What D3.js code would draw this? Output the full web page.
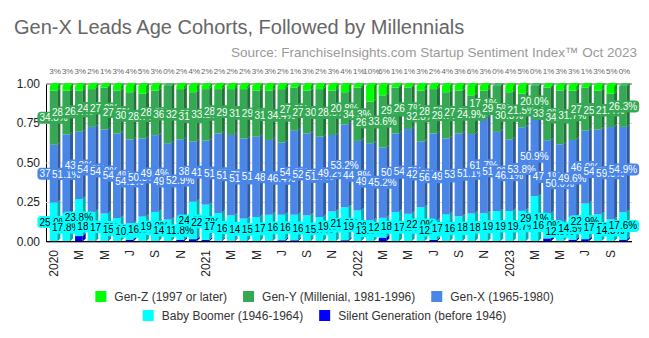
<!DOCTYPE html>
<html>
<head>
<meta charset="utf-8">
<script src="https://cdn.jsdelivr.net/npm/d3@7"></script>
<style>
  body { margin: 0; background: #fff; }
  text { font-family: "Liberation Sans", Arial, sans-serif; }
</style>
</head>
<body>
<svg id="chart" width="649" height="338"></svg>
<script>
// month tick labels (Jan 2020 .. Oct 2023), blank = no label
const MONTHS = [
  "2020","","M","","M","","J","","S","","N","",
  "2021","","M","","M","","J","","S","","N","",
  "2022","","M","","M","","J","","S","","N","",
  "2023","","M","","M","","J","","S",""
]

// percent of respondents in each cohort
const GEN_Z = [3,3,3,2,1,3,4,5,3,0,2,4,2,2,2,2,3,3,2,1,3,2,3,4,1,10,6,1,1,3,2,4,3,6,3,0,4,5,0,1,3,3,1,3,5,0]
const GEN_Y = [34.8,28.1,26.4,24.3,27.0,27.5,30.4,28.7,28.6,36.8,32.3,31.8,33.1,28.5,29.5,31.7,29.6,31.7,34.4,27.8,27.5,30.6,28.5,20.8,34.3,26.8,33.6,29.5,26.7,32.8,28.5,29.7,27.5,24.9,17.1,29.5,30.3,21.5,20.0,33.9,34.5,31.7,27.7,25.0,21.4,26.3]
const GEN_X = [37.2,51.1,43.3,54.8,54.0,54.4,54.1,50.3,49.4,49.1,52.9,38.7,41.2,51.2,51.7,51.6,51.7,48.1,46.4,54.0,52.7,51.7,49.2,53.2,44.8,49.6,45.2,50.6,54.5,42.2,56.3,49.0,53.3,51.1,61.7,51.0,46.1,53.8,50.9,47.1,50.0,49.6,46.9,54.5,59.3,54.9]
const BOOMER = [25.0,17.8,23.8,18.4,17.5,15.1,10.3,16.0,19.0,14.1,11.8,24.0,22.7,17.8,16.3,14.2,15.7,17.2,16.4,16.4,16.8,15.7,19.3,21.2,19.9,13.6,12.7,18.9,17.8,22.0,12.2,17.3,16.2,18.0,18.2,19.5,19.6,19.7,29.1,16.0,12.5,14.5,22.9,17.5,14.3,17.6]
const SILENT = [0,0,3.5,0.5,0.5,0,1.2,0,0,0,1,1.5,1,0.5,0.5,0.5,0,0,0.8,0.8,0,0,0,0.8,0,0,2.5,0,0,0,1,0,0,0,0,0,0,0,0,2,0,1.2,1.5,0,0,1.2]

const Y_TICKS = [0, 0.25, 0.5, 0.75, 1]

const SERIES = [
  {key: "silent", name: "Silent Generation (before 1946)", color: "#0000ff", label: null},
  {key: "boomer", name: "Baby Boomer (1946-1964)", color: "#00ffff", label: "#000"},
  {key: "genx", name: "Gen-X (1965-1980)", color: "#4a86e8", label: "#fff"},
  {key: "geny", name: "Gen-Y (Millenial, 1981-1996)", color: "#34a853", label: "#fff"},
  {key: "genz", name: "Gen-Z (1997 or later)", color: "#00ff00", label: null}
]

const rows = MONTHS.map(function(m, i) {
  return {i: i, silent: SILENT[i], boomer: BOOMER[i], genx: GEN_X[i], geny: GEN_Y[i], genz: GEN_Z[i]}
})

const svg = d3.select("#chart")
const left = 46, right = 632, depth = 3

// title + source
svg.append("text")
  .attr("x", 14).attr("y", 34)
  .style("font-size", "20px").style("fill", "#666")
  .text("Gen-X Leads Age Cohorts, Followed by Millennials")
svg.append("text")
  .attr("x", 637).attr("y", 57)
  .attr("text-anchor", "end")
  .style("font-size", "13.5px").style("fill", "#999")
  .text("Source: FranchiseInsights.com Startup Sentiment Index\u2122 Oct 2023")

const x = d3.scaleBand()
  .domain(d3.range(MONTHS.length))
  .range([48.5, 628])
  .paddingInner(0.4)
  .paddingOuter(0.1)
const bw = x.bandwidth()

const y = d3.scaleLinear().domain([0, 1]).range([241.5, 83.5])   // back wall / grid
const yb = d3.scaleLinear().domain([0, 1]).range([241.5, 86])    // bar front faces

// grid + y axis
const yAxis = svg.append("g")
  .attr("transform", "translate(" + left + ",0)")
  .call(d3.axisLeft(y).tickValues(Y_TICKS).tickFormat(d3.format(".2f"))
    .tickSize(-(right - left)).tickPadding(6))
yAxis.select(".domain").attr("stroke", "#000")
yAxis.selectAll(".tick line").attr("stroke", "#d4d4d4")
yAxis.selectAll(".tick text").style("font-size", "12px").style("fill", "#222")
  .style("font-family", "'Liberation Sans', Arial, sans-serif")

// stacked 3D bars
const stack = d3.stack().keys(SERIES.map(s => s.key)).offset(d3.stackOffsetExpand)
const layers = stack(rows)

const bars = svg.append("g")
rows.forEach(function(r, i) {
  const x0 = x(i), x1 = x0 + bw
  let topLayer = null
  layers.forEach(function(layer, li) {
    const seg = layer[i]
    if (seg[1] - seg[0] <= 0) return
    const c = d3.color(SERIES[li].color)
    const yt = yb(seg[1]), ybot = yb(seg[0])
    bars.append("rect")
      .attr("x", x0).attr("y", yt)
      .attr("width", bw).attr("height", ybot - yt)
      .attr("fill", SERIES[li].color)
    bars.append("polygon")
      .attr("points", [[x1, ybot], [x1 + depth, ybot - depth], [x1 + depth, yt - depth], [x1, yt]].join(" "))
      .attr("fill", c.darker(1.1))
    topLayer = {li: li, yt: yt}
  })
  if (topLayer) {
    const c = d3.color(SERIES[topLayer.li].color)
    const yt = topLayer.yt
    bars.append("polygon")
      .attr("points", [[x0, yt], [x0 + depth, yt - depth], [x1 + depth, yt - depth], [x1, yt]].join(" "))
      .attr("fill", c.brighter(0.4))
  }
})

// x axis line
svg.append("line")
  .attr("x1", left).attr("x2", right)
  .attr("y1", 241.5).attr("y2", 241.5)
  .attr("stroke", "#000")

// x tick labels (rotated)
svg.append("g").selectAll("text")
  .data(rows.filter(r => MONTHS[r.i] !== ""))
  .enter().append("text")
  .attr("transform", d => "translate(" + (x(d.i) + bw / 2 + 4.5) + ",250) rotate(-90)")
  .attr("text-anchor", "end")
  .style("font-size", "12px").style("fill", "#222")
  .text(d => MONTHS[d.i])

// Gen-Z percentages above the plot
svg.append("g").selectAll("text")
  .data(rows)
  .enter().append("text")
  .attr("x", d => x(d.i) + bw / 2 + 1.5)
  .attr("y", 74)
  .attr("text-anchor", "middle")
  .style("font-size", "8px").style("fill", "#666")
  .text(d => d.genz + "%")

// value labels in segments
const labels = svg.append("g")
layers.forEach(function(layer, li) {
  const s = SERIES[li]
  if (!s.label) return
  layer.forEach(function(seg, i) {
    const v = rows[i][s.key]
    const g = labels.append("g")
      .attr("transform", "translate(" + (x(i) + bw / 2) + "," + yb((seg[0] + seg[1]) / 2) + ")")
    const t = g.append("text")
      .attr("text-anchor", "middle")
      .attr("dy", "0.35em")
      .style("font-size", "10px")
      .style("fill", s.label)
      .text(d3.format(".1f")(v) + "%")
    const bb = t.node().getBBox()
    g.insert("rect", "text")
      .attr("x", bb.x - 2).attr("y", bb.y - 0.5)
      .attr("width", bb.width + 4).attr("height", bb.height + 1)
      .attr("rx", 4).attr("ry", 4)
      .attr("fill", s.color)
  })
})

// legend, two centred rows
const legendRows = [
  [SERIES[4], SERIES[3], SERIES[2]],
  [SERIES[1], SERIES[0]]
]
legendRows.forEach(function(items, ri) {
  const g = svg.append("g")
  let cx = 0
  items.forEach(function(s) {
    const item = g.append("g").attr("transform", "translate(" + cx + ",0)")
    item.append("rect")
      .attr("x", 0).attr("y", -6)
      .attr("width", 11).attr("height", 11)
      .attr("fill", s.color)
    const t = item.append("text")
      .attr("x", 19).attr("y", 4)
      .style("font-size", "12px").style("fill", "#333")
      .text(s.name)
    cx += 19 + t.node().getComputedTextLength() + 16
  })
  const total = cx - 16
  g.attr("transform", "translate(" + (649 / 2 - total / 2) + "," + (297 + ri * 19) + ")")
})
</script>
</body>
</html>
